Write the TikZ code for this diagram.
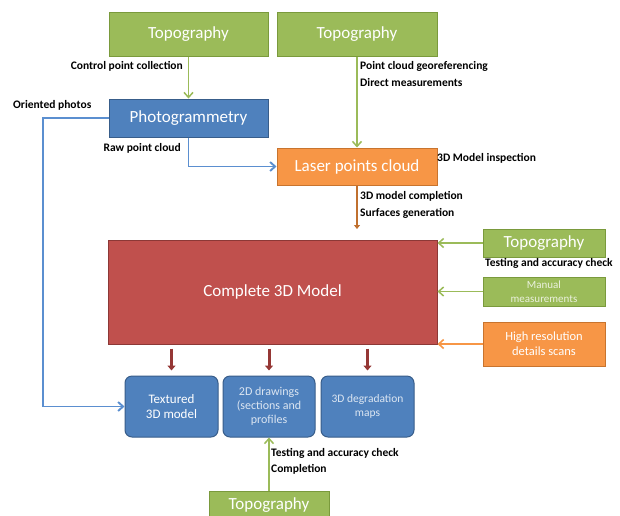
\documentclass[tikz,border=0pt]{standalone}
\usepackage{fontspec}
\setmainfont{Carlito}
\usetikzlibrary{arrows.meta}
\definecolor{gfill}{HTML}{9BBB59}\definecolor{gline}{HTML}{7A9A3C}
\definecolor{bfill}{HTML}{4F81BD}\definecolor{bline}{HTML}{385D8A}
\definecolor{ofill}{HTML}{F79646}\definecolor{oline}{HTML}{C8742E}
\definecolor{rfill}{HTML}{C0504D}\definecolor{rline}{HTML}{8C3836}
\definecolor{darr}{HTML}{953735}\definecolor{barr}{HTML}{5B8FD0}
\definecolor{brarr}{HTML}{C0702F}
\begin{document}
\begin{tikzpicture}[x=1pt,y=-1pt,
  box/.style={draw, line width=1pt, inner sep=1pt, align=center, text=white},
  big/.style={font=\fontsize{17}{19}\selectfont},
  gbox/.style={box, fill=gfill, draw=gline},
  bbox/.style={box, fill=bfill, draw=bline},
  obox/.style={box, fill=ofill, draw=oline},
  rbox/.style={box, fill=rfill, draw=rline},
  lbl/.style={font=\fontsize{11.5}{13}\selectfont\bfseries, inner sep=0pt},
  garr/.style={draw=gfill, line width=1.5pt, -{Straight Barb[length=5pt,width=9pt]}},
  barrow/.style={draw=barr, line width=1.9pt, -{Straight Barb[length=5pt,width=9pt]}},
  rarr/.style={draw=darr, line width=3pt, -{Triangle[length=5pt,width=8pt]}},
  oarr/.style={draw=brarr, line width=2.2pt, -{Triangle[length=4pt,width=6pt]}},
  oarr2/.style={draw=ofill, line width=1.6pt, -{Straight Barb[length=5pt,width=9pt]}}]
\clip (0,0) rectangle (620,515);
\fill[white] (0,0) rectangle (620,515);
% boxes
\node[gbox, big, minimum width=159pt, minimum height=44pt] (topoA) at (188.5,34) {Topography};
\node[gbox, big, minimum width=160pt, minimum height=44pt] (topoB) at (357,34) {Topography};
\node[bbox, big, minimum width=159pt, minimum height=38pt] (photo) at (188.5,118) {Photogrammetry};
\node[obox, big, minimum width=160pt, minimum height=37pt] (laser) at (357,166.5) {Laser points cloud};
\node[rbox, big, minimum width=329pt, minimum height=104pt] (model) at (272.5,292) {Complete 3D Model};
\node[gbox, big, minimum width=122pt, minimum height=28pt] (topoC) at (544,243) {Topography};
\node[gbox, minimum width=122pt, minimum height=29pt, font=\fontsize{11}{13.5}\selectfont, text=white!80!gfill] (manual) at (544,291.5) {Manual\\measurements};
\node[obox, minimum width=122pt, minimum height=44pt, font=\fontsize{12.5}{15}\selectfont] (hires) at (544,344) {High resolution\\details scans};
\node[bbox, rounded corners=7pt, minimum width=93pt, minimum height=61pt, font=\fontsize{13}{15}\selectfont] (tex) at (171.5,406.5) {Textured\\3D model};
\node[bbox, rounded corners=7pt, minimum width=92pt, minimum height=61pt, font=\fontsize{12}{14}\selectfont, text=white!80!bfill] (d2) at (269,406.5) {2D drawings\\(sections and\\profiles};
\node[bbox, rounded corners=7pt, minimum width=93pt, minimum height=61pt, font=\fontsize{11.5}{14}\selectfont, text=white!80!bfill] (degr) at (367.5,406.5) {3D degradation\\maps};
\node[gbox, big, minimum width=120pt, minimum height=28pt] (topoD) at (269,505) {Topography};
% connectors
\draw[garr] (topoA) -- (photo);
\draw[garr] (topoB) -- (laser);
\draw[barrow] (photo.south) |- (laser.west);
\coordinate (ltop) at (43,118);
\draw[barrow] (photo.west |- ltop) -- (ltop) |- (tex.west);
\coordinate (oend) at (357,229);
\draw[oarr] (laser.south) -- (oend);
\draw[garr] (topoC.west) -- (topoC.west -| model.east);
\draw[garr] (manual.west) -- (manual.west -| model.east);
\draw[oarr2] (hires.west) -- (hires.west -| model.east);
\foreach \n in {tex,d2,degr}{
  \draw[rarr, shorten <=4pt, shorten >=5pt] (model.south -| \n.north) -- (\n.north);
}
\draw[garr] (topoD.north) -- (d2.south);
% labels
\node[lbl, anchor=east] (l1) at (183,66) {Control point collection};
\node[lbl, anchor=west] (l2) at (360,66) {Point cloud georeferencing};
\node[lbl, anchor=west] (l3) at (360,83) {Direct measurements};
\node[lbl, anchor=west] (l4) at (13,105) {Oriented photos};
\node[lbl, anchor=east] (l5) at (181,148) {Raw point cloud};
\node[lbl, anchor=west] (l6) at (437,158) {3D Model inspection};
\node[lbl, anchor=west] (l7) at (360,196) {3D model completion};
\node[lbl, anchor=west] (l8) at (360,213) {Surfaces generation};
\node[lbl, anchor=west] (l9) at (485,263) {Testing and accuracy check};
\node[lbl, anchor=west] (l10) at (271,453) {Testing and accuracy check};
\node[lbl, anchor=west] (l11) at (271,469) {Completion};
\end{tikzpicture}
\end{document}
